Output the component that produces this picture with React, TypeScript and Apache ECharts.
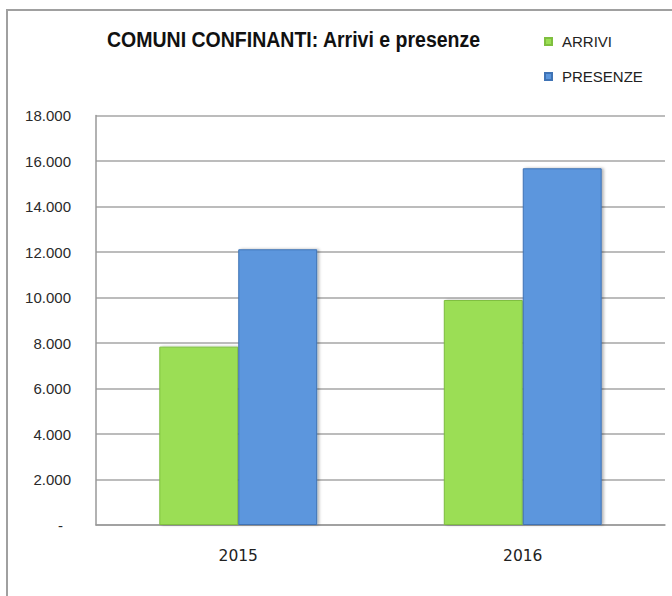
import React, { useEffect, useRef } from "react";
import * as echarts from "echarts";

const categories = ["2015", "2016"];
const arrivi = [7840, 9890];
const presenze = [12120, 15680];
const seriesNames = ["ARRIVI", "PRESENZE"];
const titleText = "COMUNI CONFINANTI: Arrivi e presenze";

function fmt(v: number): string {
  if (v === 0) return "{d|-}";
  return (v / 1000).toFixed(3);
}

export default function App() {
  const ref = useRef<HTMLDivElement>(null);
  useEffect(() => {
    if (!ref.current) return;
    const chart = echarts.init(ref.current, undefined, { renderer: "svg" });
    chart.setOption({
      animation: false,
      backgroundColor: "#ffffff",
      legend: {
        orient: "vertical",
        left: 544,
        top: 34,
        padding: 0,
        itemWidth: 7,
        itemHeight: 7,
        itemGap: 20,
        icon: "rect",
        textStyle: {
          fontFamily: "'Liberation Sans', Arial, sans-serif",
          fontSize: 15,
          color: "#222222",
          padding: [0, 0, 0, 5],
        },
        data: seriesNames,
      },
      graphic: [
        {
          type: "rect",
          shape: { x: 7, y: 10, width: 700, height: 700 },
          style: { fill: "none", stroke: "#a0a0a0", lineWidth: 2 },
          silent: true,
          z: -1,
        },
        {
          type: "text",
          x: 107,
          y: 39.5,
          scaleX: 0.887,
          style: {
            text: titleText,
            x: 0,
            y: 0,
            textAlign: "left",
            textVerticalAlign: "middle",
            fontFamily: "'Liberation Sans', Arial, sans-serif",
            fontWeight: "bold",
            fontSize: 22,
            fill: "#111111",
          },
          silent: true,
        },
      ],
      grid: { left: 96, right: 7, top: 115.5, bottom: 71 },
      xAxis: {
        type: "category",
        data: categories,
        axisLine: { show: true, lineStyle: { color: "#999999", width: 1.5 } },
        axisTick: { show: false },
        axisLabel: {
          margin: 23,
          fontFamily: "'DejaVu Sans', Verdana, sans-serif",
          fontSize: 15.5,
          color: "#222222",
        },
      },
      yAxis: {
        type: "value",
        min: 0,
        max: 18000,
        interval: 2000,
        axisLine: { show: true, lineStyle: { color: "#999999", width: 1.5 } },
        axisTick: { show: false },
        splitLine: { lineStyle: { color: "#a6a6a6", width: 1.5 } },
        axisLabel: {
          margin: 25,
          formatter: fmt,
          fontFamily: "'Liberation Sans', Arial, sans-serif",
          fontSize: 15,
          color: "#2a2a2a",
          rich: {
            d: {
              fontFamily: "'Liberation Sans', Arial, sans-serif",
              fontSize: 15,
              color: "#2a2a2a",
              padding: [0, 8, 0, 0],
            },
          },
        },
      },
      series: [
        {
          name: seriesNames[0],
          type: "bar",
          data: arrivi,
          barGap: "0%",
          barCategoryGap: "44.5%",
          itemStyle: {
            color: "#9bde55",
            borderColor: "#7fbf3f",
            borderWidth: 1,
            shadowColor: "rgba(0,0,0,0.3)",
            shadowBlur: 3,
            shadowOffsetX: 2,
            shadowOffsetY: 0,
          },
        },
        {
          name: seriesNames[1],
          type: "bar",
          data: presenze,
          barGap: "0%",
          barCategoryGap: "44.5%",
          itemStyle: {
            color: "#5b96dd",
            borderColor: "#3f73b5",
            borderWidth: 1,
            shadowColor: "rgba(0,0,0,0.3)",
            shadowBlur: 3,
            shadowOffsetX: 2,
            shadowOffsetY: 0,
          },
        },
      ],
    });
    return () => chart.dispose();
  }, []);
  return (
    <div
      ref={ref}
      style={{ position: "fixed", left: 0, top: 0, width: 672, height: 596 }}
    />
  );
}
